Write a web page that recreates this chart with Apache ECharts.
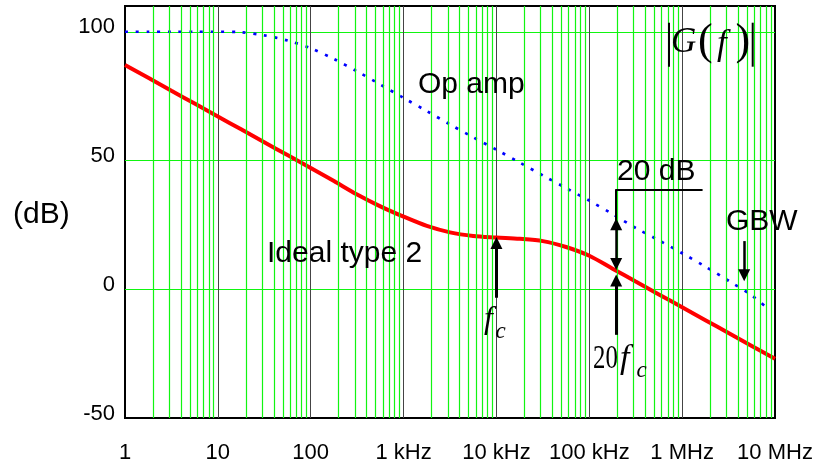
<!DOCTYPE html>
<html>
<head>
<meta charset="utf-8">
<script src="https://cdn.jsdelivr.net/npm/echarts@6/dist/echarts.min.js"></script>
<style>
  html, body { margin: 0; padding: 0; background: #fff; }
  #chart { width: 825px; height: 465px; }
</style>
</head>
<body>
<div id="chart"></div>
<script>
// frequency samples (Hz), quarter decade apart
const freqHz = [1, 1.78, 3.16, 5.62, 10, 17.8, 31.6, 56.2, 100, 178, 316, 562,
  1000, 1780, 3160, 5620, 1e4, 1.78e4, 3.16e4, 5.62e4, 1e5, 1.78e5, 3.16e5, 5.62e5,
  1e6, 1.78e6, 3.16e6, 5.62e6, 1e7];

// |G(f)| of the ideal type 2 compensator, dB
const idealType2Db = [87.1, 82.1, 77.1, 72.1, 67.1, 62.1, 57.1, 52.1, 47.1, 42.0, 36.8, 32.2,
  28.2, 24.6, 22.1, 20.7, 20.1, 19.6, 18.7, 16.4, 13.0, 8.0, 3.0, -2.0,
  -7.0, -12.0, -17.0, -22.0, -27.0];

// open loop gain of the op amp, dB (curve stops a bit before 10 MHz)
const opAmpFreq = [1, 1.78, 3.16, 5.62, 10, 17.8, 31.6, 56.2, 100, 178, 316, 562,
  1000, 1780, 3160, 5620, 1e4, 1.78e4, 3.16e4, 5.62e4, 1e5, 1.78e5, 3.16e5, 5.62e5,
  1e6, 1.78e6, 3.16e6, 5.62e6, 8.5e6];
const opAmpDb = [100, 100, 100, 100, 100, 99.8, 98.6, 96.6, 93.6, 89.4, 84.6, 79.5,
  74.3, 69.2, 64.0, 59.0, 54.2, 49.2, 44.2, 39.3, 34.4, 29.2, 23.8, 19.0,
  14.0, 8.8, 3.3, -2.4, -7.7];

const xTickLabels = ['1', '10', '100', '1 kHz', '10 kHz', '100 kHz', '1 MHz', '10 MHz'];
const yTickValues = [-50, 0, 50, 100];

// 2..9 inside every decade
const minorGridFreq = [];
for (let d = 0; d < 7; d++) {
  for (let k = 2; k <= 9; k++) {
    minorGridFreq.push(k * Math.pow(10, d));
  }
}

const sans = 'Liberation Sans, Arial, sans-serif';
const serif = 'Liberation Serif, Times New Roman, serif';
const green = '#11f511';

function arrowLine(from, to, width, startSym) {
  return [
    { coord: from, symbol: startSym ? 'triangle' : 'none', symbolSize: [12, 12] },
    { coord: to, symbol: 'triangle', symbolSize: [12, 12], lineStyle: { width: width } }
  ];
}

function txt(x, y, text, font, extra) {
  return Object.assign({
    type: 'text', x: x, y: y, z: 100,
    style: { text: text, font: font, fill: '#000', verticalAlign: 'middle' }
  }, extra || {});
}

const chart = echarts.init(document.getElementById('chart'), null, { renderer: 'canvas' });

chart.setOption({
  animation: false,
  backgroundColor: '#fff',
  grid: {
    left: 125, right: 50, top: 6, bottom: 47,
    show: true, borderColor: '#000', borderWidth: 2, backgroundColor: 'transparent'
  },
  xAxis: {
    type: 'log',
    logBase: 10,
    min: 1,
    max: 1e7,
    splitNumber: 7,
    axisLine: { show: false },
    axisTick: { show: false },
    splitLine: {
      show: true, showMinLine: false, showMaxLine: false,
      lineStyle: { color: '#444', width: 1 }
    },
    axisLabel: {
      color: '#000',
      fontSize: 22,
      fontFamily: sans,
      margin: 24,
      showMinLabel: true,
      showMaxLabel: true,
      formatter: v => {
        const p = Math.log10(v);
        return Math.abs(p - Math.round(p)) < 1e-6 ? (xTickLabels[Math.round(p)] || '') : '';
      }
    }
  },
  yAxis: {
    type: 'value',
    min: -50,
    max: 110,
    interval: 50,
    axisLine: { show: false },
    axisTick: { show: false },
    splitLine: {
      show: true, showMinLine: false, showMaxLine: false,
      lineStyle: { color: green, width: 1.2 }
    },
    axisLabel: {
      color: '#000',
      fontSize: 22,
      fontFamily: sans,
      margin: 10,
      verticalAlign: 'bottom',
      lineHeight: 9,
      formatter: v => (yTickValues.indexOf(v) >= 0 ? String(v) : '')
    }
  },
  series: [
    {
      name: 'minor grid',
      type: 'line',
      data: [],
      silent: true,
      z: 1,
      markLine: {
        silent: true,
        symbol: 'none',
        label: { show: false },
        lineStyle: { color: green, width: 1.2, type: 'solid', opacity: 1 },
        data: minorGridFreq.map(f => ({ xAxis: f }))
      }
    },
    {
      name: 'Op amp',
      type: 'line',
      data: opAmpFreq.map((f, i) => [f, opAmpDb[i]]),
      smooth: 0.3,
      showSymbol: false,
      z: 3,
      lineStyle: { color: '#0000ff', width: 2.7, type: [3, 7.7], cap: 'butt' }
    },
    {
      name: 'Ideal type 2',
      type: 'line',
      data: freqHz.map((f, i) => [f, idealType2Db[i]]),
      smooth: 0.3,
      showSymbol: false,
      z: 4,
      lineStyle: { color: '#ff0000', width: 4 }
    },
    {
      name: 'marks',
      type: 'line',
      data: [],
      silent: true,
      z: 5,
      markLine: {
        silent: true,
        label: { show: false },
        lineStyle: { color: '#000', width: 3, type: 'solid' },
        itemStyle: { color: '#000' },
        data: [
          arrowLine([1e4, -3.3], [1e4, 18.0], 3),
          arrowLine([1.95e5, -17.7], [1.95e5, 3.4], 3),
          arrowLine([1.95e5, 25.2], [1.95e5, 9.8], 2.5, true),
          [{ coord: [1.95e5, 38.5], symbol: 'none' }, { coord: [1.95e5, 25.2], symbol: 'none', lineStyle: { width: 2 } }],
          [{ coord: [1.9e5, 38.5], symbol: 'none' }, { coord: [1.66e6, 38.5], symbol: 'none', lineStyle: { width: 2 } }],
          arrowLine([4.66e6, 18.7], [4.66e6, 5.4], 2.5)
        ]
      }
    }
  ],
  graphic: [
    txt(418, 84.6, 'Op amp', '30px ' + sans),
    txt(267, 253.6, 'Ideal type 2', '30px ' + sans),
    txt(617, 172, '20 dB', '30px ' + sans),
    txt(726, 222, 'GBW', '30px ' + sans),
    txt(13, 214.6, '(dB)', '30px ' + sans),

    // |G(f)|
    { type: 'line', z: 100, shape: { x1: 669, y1: 22.7, x2: 669, y2: 66.7 }, style: { stroke: '#000', lineWidth: 2 } },
    { type: 'line', z: 100, shape: { x1: 752.7, y1: 22.7, x2: 752.7, y2: 66.7 }, style: { stroke: '#000', lineWidth: 2 } },
    txt(671, 43, 'G', 'italic 35px ' + serif),
    txt(698, 42.3, '(', '44px ' + serif),
    txt(717, 44.6, 'f', 'italic 35px ' + serif),
    txt(735.5, 42.3, ')', '44px ' + serif),

    // f_c
    txt(484, 319.8, 'f', 'italic 32px ' + serif),
    txt(495.6, 331.8, 'c', 'italic 23px ' + serif),

    // 20 f_c
    txt(593, 359.5, '20', '33px ' + serif, { scaleX: 0.75 }),
    txt(620, 359.5, 'f', 'italic 34px ' + serif),
    txt(636.5, 370.8, 'c', 'italic 23px ' + serif)
  ]
});
</script>
</body>
</html>
